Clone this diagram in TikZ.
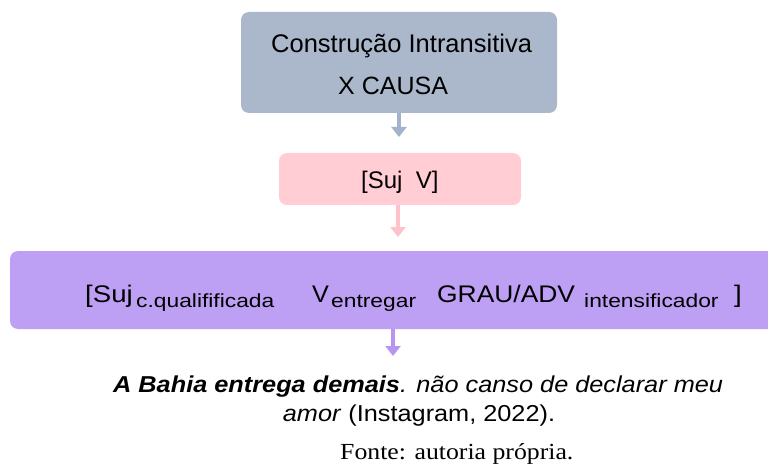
\documentclass[tikz,border=0pt]{standalone}
\usepackage{fontspec}
\setmainfont{Liberation Sans}
\newfontfamily\fonteserif{Liberation Serif}
\usetikzlibrary{arrows.meta}
\definecolor{boxA}{HTML}{ABB8CC}
\definecolor{boxB}{HTML}{FFCDD3}
\definecolor{boxC}{HTML}{BD9FF3}
\definecolor{arrA}{HTML}{A3B3CB}
\definecolor{arrB}{HTML}{FFC2CB}
\definecolor{arrC}{HTML}{B795F0}
\newcommand{\wmain}[1]{\scalebox{1.15}[1]{#1}}
\newcommand{\wsub}[1]{\scalebox{1.2}[1]{#1}}
\newcommand{\wex}[1]{\scalebox{1.1}[1]{#1}}
\tikzset{
  conn/.style={line width=4.2pt, -{Triangle[width=15pt,length=10pt]}},
  lbl/.style={inner sep=0pt, anchor=base west},
  big/.style={font=\fontsize{24}{28}\selectfont},
  small/.style={font=\fontsize{19}{22}\selectfont},
  ex/.style={font=\fontsize{23}{27}\selectfont},
}
\begin{document}
\begin{tikzpicture}[x=1pt,y=-1pt]
\useasboundingbox (0,0) rectangle (768,465);
% boxes
\fill[boxA, rounded corners=8pt] (241,12) rectangle (557,113);
\coordinate (a1) at (399,113);
\coordinate (a2) at (399,137);
\fill[boxB, rounded corners=8pt] (279,153) rectangle (521,205);
\coordinate (b1) at (398,205);
\coordinate (b2) at (398,237);
\fill[boxC, rounded corners=8pt] (10,251) rectangle (790,329);
\coordinate (c1) at (393,329);
\coordinate (c2) at (393,356);
% texts
\node[lbl, font=\fontsize{25.5}{30}\selectfont] (t1) at (271,53) {Construção Intransitiva};
\node[lbl, font=\fontsize{25}{30}\selectfont] (t2) at (338,95) {X CAUSA};
\node[lbl, font=\fontsize{24}{28}\selectfont] (t3) at (361,189) {[Suj\ \ V]};
\node[lbl, big] (s1) at (85,302) {\wmain{[Suj}};
\node[lbl, small] (s2) at (136,307) {\wsub{c.qualifificada}};
\node[lbl, big] (s3) at (312,302) {\scalebox{1.05}[1]{V}};
\node[lbl, small] (s4) at (331,307) {\wsub{entregar}};
\node[lbl, big] (s5) at (437,302) {\scalebox{1.1}[1]{GRAU/ADV}};
\node[lbl, small] (s6) at (584,307) {\wsub{intensificador}};
\node[lbl, big] (s7) at (734,302) {\wmain{]}};
\node[lbl, ex] (e1) at (113,392) {\wex{\textbf{\textit{A Bahia entrega demais}}\textit{. não canso de declarar meu}}};
\node[ex, inner sep=0pt, anchor=base] (e2) at (419,421) {\wex{\textit{amor} (Instagram, 2022).}};
\node[lbl, font=\fonteserif\fontsize{23}{27}\selectfont] (f1) at (340,459) {\scalebox{1.12}[1]{Fonte: autoria própria.}};
% connectors
\draw[conn, arrA] (a1) -- (a2);
\draw[conn, arrB] (b1) -- (b2);
\draw[conn, arrC] (c1) -- (c2);
\end{tikzpicture}
\end{document}
